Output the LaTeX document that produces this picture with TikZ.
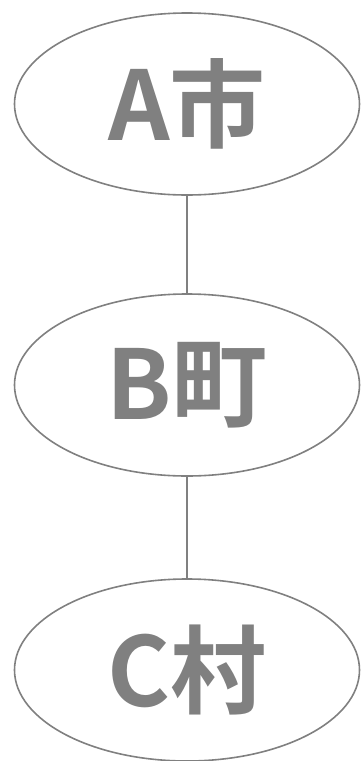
\documentclass[tikz,border=0pt]{standalone}
\usepackage{fontspec}
\newfontfamily\jpfont{Noto Sans CJK JP}[BoldFont={* Bold}]
\usetikzlibrary{shapes.geometric}
\definecolor{cityGris}{HTML}{808080}

\begin{document}
\begin{tikzpicture}[x=1pt, y=1pt,
      town/.style={ellipse, draw=cityGris, line width=1.6pt, fill=white,
                minimum width=345pt, minimum height=182pt, inner sep=0pt,
                text=cityGris, font=\jpfont\bfseries\fontsize{96}{96}\selectfont},
      link/.style={draw=cityGris, line width=1.2pt}]
    \useasboundingbox (0,0) rectangle (360,-761);
    \node[town] (a) at (187,-104) {A市};
    \node[town] (b) at (187,-385) {B町};
    \node[town] (c) at (187,-670) {C村};
    \draw[link] (a)--(b);
    \draw[link] (b)--(c);
  \end{tikzpicture}
\end{document}
